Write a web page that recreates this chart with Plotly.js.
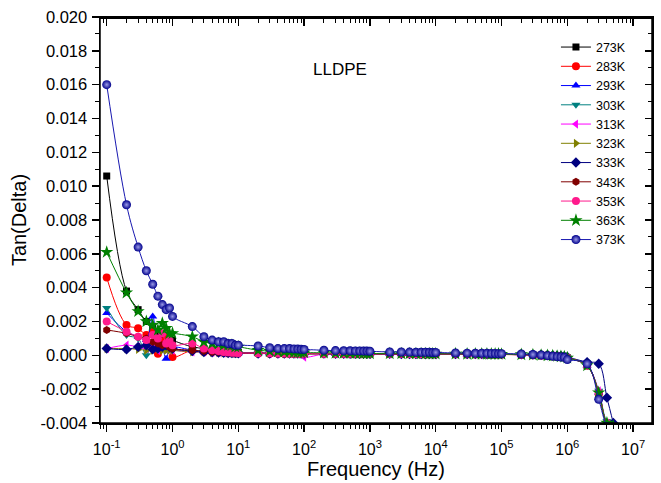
<!DOCTYPE html>
<html>
<head>
<meta charset="utf-8">
<script src="https://cdn.plot.ly/plotly-3.0.1.min.js"></script>
<style>html,body{margin:0;padding:0;background:#fff;}#chart{width:661px;height:483px;}</style>
</head>
<body>
<div id="chart"></div>
<script>
// ---------------- DATA ----------------
const freqHz = [0.1,0.2,0.3,0.4,0.5,0.6,0.7,0.8,0.9,
  1,2,3,4,5,6,7,8,9,
  10,20,30,40,50,60,70,80,90,
  100,200,300,400,500,600,700,800,900,
  1000,2000,3000,4000,5000,6000,7000,8000,9000,
  10000,20000,30000,40000,50000,60000,70000,80000,90000,
  100000,200000,300000,400000,500000,600000,700000,800000,900000,
  1000000,2000000,3000000,4000000,5000000];

const seriesNames = ['273K','283K','293K','303K','313K','323K','333K','343K','353K','363K','373K'];

const tan273 = [0.0106,0.0038,0.0027,0.0020,0.0017,0.0014,0.0012,0.0011,0.0010,
  0.0009,0.0005,0.0004,0.0003,0.0003,0.00025,0.00022,0.0002,0.0002,
  0.00018,0.00015,0.00013,0.00012,0.00012,0.00011,0.00011,0.0001,0.0001,
  0.0001,0.0001,0.00009,0.00009,0.00009,0.00009,0.00009,0.00009,0.00009,
  0.00009,0.00009,0.00008,0.00008,0.00008,0.00008,0.00008,0.00008,0.00008,
  0.00008,0.00008,0.00007,0.00007,0.00007,0.00007,0.00007,0.00007,0.00006,
  0.00006,0.00004,0.00002,0.0,-0.00002,-0.00004,-0.00006,-0.00008,-0.0001,
  -0.00015,-0.0006,-0.0022,-0.0040,-0.0042];

const tan283 = [0.0046,0.0018,0.0016,0.0012,0.0014,0.0001,0.0008,0.0011,0.0005,
  -0.0001,0.0003,0.0002,0.0002,0.00018,0.00016,0.00015,0.00014,0.00013,
  0.00013,0.00012,0.00011,0.00011,0.0001,0.0001,0.0001,0.0001,0.0001,
  0.0001,0.00009,0.00009,0.00009,0.00009,0.00008,0.00008,0.00008,0.00008,
  0.00008,0.00008,0.00008,0.00007,0.00007,0.00007,0.00007,0.00007,0.00007,
  0.00007,0.00007,0.00007,0.00006,0.00006,0.00006,0.00006,0.00006,0.00006,
  0.00005,0.00003,0.00001,-0.00001,-0.00003,-0.00005,-0.00007,-0.00009,-0.00011,
  -0.00016,-0.0006,-0.0023,-0.0040,-0.0042];

const tan293 = [0.0025,0.0014,0.0011,0.0009,0.0023,0.0006,0.0004,-0.0002,0.0004,
  0.0005,0.0003,0.0002,0.0002,0.00018,0.00016,0.00015,0.00014,0.00013,
  0.00013,0.00012,0.00011,0.00011,0.0001,0.0001,0.0001,0.0001,0.0001,
  0.00012,0.0001,0.0001,0.00009,0.00009,0.00009,0.00009,0.00009,0.00009,
  0.00009,0.00008,0.00008,0.00008,0.00008,0.00008,0.00008,0.00008,0.00008,
  0.00008,0.00007,0.00007,0.00007,0.00007,0.00007,0.00007,0.00007,0.00007,
  0.00006,0.00004,0.00002,0.0,-0.00002,-0.00004,-0.00006,-0.00008,-0.0001,
  -0.00015,-0.0006,-0.0022,-0.0040,-0.0042];

const tan303 = [0.0028,0.0012,0.0010,0.0000,0.0008,0.0006,0.0005,0.0004,0.0004,
  0.0003,0.0003,0.00025,0.0002,0.0002,0.00018,0.00016,0.00015,0.00014,
  0.00014,0.00012,0.00011,0.00011,0.0001,0.0001,0.0001,0.0001,0.0001,
  0.0001,0.0001,0.00009,0.00009,0.00009,0.00009,0.00009,0.00009,0.00009,
  0.00009,0.00009,0.00009,0.00008,0.00008,0.00008,0.00008,0.00008,0.00008,
  0.00008,0.00008,0.00007,0.00007,0.00007,0.00007,0.00007,0.00007,0.00007,
  0.00006,0.00004,0.00002,0.0,-0.00002,-0.00004,-0.00006,-0.00008,-0.0001,
  -0.00015,-0.0006,-0.0021,-0.0039,-0.0041];

const tan313 = [0.0004,0.0006,0.0005,0.0004,0.0005,0.0003,0.0006,0.0004,0.0003,
  0.0003,0.0002,0.0002,0.00018,0.00016,0.00015,0.00014,0.00013,0.00012,
  0.00012,0.00011,0.0001,0.0001,0.0001,0.0001,0.00009,0.00009,0.00009,
  -0.0001,0.00008,0.00008,0.00008,0.00008,0.00008,0.00008,0.00008,0.00008,
  0.00008,0.00008,0.00008,0.00008,0.00007,0.00007,0.00007,0.00007,0.00007,
  0.00007,0.00007,0.00007,0.00007,0.00006,0.00006,0.00006,0.00006,0.00006,
  0.00006,0.00004,0.00002,0.0,-0.00002,-0.00004,-0.00006,-0.00008,-0.0001,
  -0.00015,-0.0006,-0.0021,-0.0040,-0.0042];

const tan323 = [0.0004,0.0004,0.00035,0.0003,0.0003,0.0004,0.0003,0.0003,0.0003,
  0.0003,0.0002,0.0002,0.00018,0.00016,0.00015,0.00014,0.00013,0.00012,
  0.00012,0.00011,0.0001,0.0001,0.0001,0.0001,0.0001,0.00009,0.00009,
  0.00009,0.00009,0.00009,0.00008,0.00008,0.00008,0.00008,0.00008,0.00008,
  0.00008,0.00008,0.00008,0.00008,0.00008,0.00007,0.00007,0.00007,0.00007,
  0.00007,0.00007,0.00007,0.00007,0.00007,0.00006,0.00006,0.00006,0.00006,
  0.00006,0.00004,0.00002,0.0,-0.00002,-0.00004,-0.00006,-0.00008,-0.0001,
  -0.00015,-0.0006,-0.0022,-0.0040,-0.0042];

const tan333 = [0.0004,0.00035,0.0005,0.0006,0.00035,0.0004,0.0005,0.0006,0.0005,
  0.0004,0.00025,0.0002,0.00018,0.00016,0.00015,0.00014,0.00013,0.00013,
  0.00012,0.00011,0.00011,0.0001,0.0001,0.0001,0.0001,0.0001,0.0001,
  0.0001,0.0001,0.00009,0.00009,0.00009,0.00009,0.00009,0.00009,0.00009,
  0.00009,0.00009,0.00008,0.00008,0.00008,0.00008,0.00008,0.00008,0.00008,
  0.00008,0.00008,0.00008,0.00007,0.00007,0.00007,0.00007,0.00007,0.00007,
  0.00007,0.00006,0.00005,0.00004,0.00002,0.0,-0.00002,-0.00004,-0.00006,
  -0.0001,-0.0004,-0.0005,-0.0025,-0.0040];

const tan343 = [0.0015,0.0013,0.0011,0.0010,0.0008,0.0007,0.0006,0.0007,0.0005,
  0.0004,0.0003,0.00025,0.0002,0.0002,0.00018,0.00016,0.00015,0.00014,
  0.00013,0.00012,0.00011,0.00011,0.0001,0.0001,0.0001,0.0001,0.0001,
  0.0001,0.0001,0.00009,0.00009,0.00009,0.00009,0.00009,0.00009,0.00009,
  0.00009,0.00009,0.00008,0.00008,0.00008,0.00008,0.00008,0.00008,0.00008,
  0.00008,0.00008,0.00007,0.00007,0.00007,0.00007,0.00007,0.00007,0.00007,
  0.00006,0.00004,0.00002,0.0,-0.00002,-0.00004,-0.00006,-0.00008,-0.0001,
  -0.00015,-0.0006,-0.0022,-0.0040,-0.0042];

const tan353 = [0.0020,0.0014,0.0011,0.0009,0.0012,0.0010,0.0013,0.0007,0.0009,
  0.0006,0.0007,0.0004,0.0003,0.00025,0.0002,0.00018,0.00016,0.00015,
  0.00014,0.00013,0.00012,0.00011,0.00011,0.0001,0.0001,0.0001,0.0001,
  0.0001,0.0001,0.0001,0.00009,0.00009,0.00009,0.00009,0.00009,0.00009,
  0.00009,0.00009,0.00009,0.00008,0.00008,0.00008,0.00008,0.00008,0.00008,
  0.00008,0.00008,0.00008,0.00007,0.00007,0.00007,0.00007,0.00007,0.00007,
  0.00006,0.00004,0.00002,0.0,-0.00002,-0.00004,-0.00006,-0.00008,-0.0001,
  -0.00015,-0.0006,-0.0022,-0.0040,-0.0042];

const tan363 = [0.0061,0.0037,0.0026,0.0020,0.0018,0.0015,0.0019,0.0016,0.0013,
  0.0013,0.0011,0.0008,0.0007,0.0007,0.0006,0.0006,0.0006,0.0005,
  0.0005,0.0003,0.00025,0.00022,0.0002,0.0002,0.00018,0.00018,0.00017,
  0.00016,0.00015,0.00014,0.00013,0.00013,0.00012,0.00012,0.00012,0.00011,
  0.00011,0.0001,0.0001,0.0001,0.0001,0.0001,0.0001,0.00009,0.00009,
  0.00009,0.00009,0.00008,0.00008,0.00008,0.00008,0.00008,0.00008,0.00008,
  0.00007,0.00005,0.00003,0.00001,-0.00001,-0.00003,-0.00005,-0.00007,-0.00009,
  -0.00015,-0.0006,-0.0022,-0.0040,-0.0042];

const tan373 = [0.0160,0.0089,0.0064,0.0050,0.0042,0.0035,0.0030,0.0027,0.0028,
  0.0023,0.0017,0.0011,0.0009,0.0008,0.0008,0.0007,0.0007,0.0006,
  0.0006,0.00055,0.00045,0.0004,0.0004,0.0004,0.00038,0.00037,0.00036,
  0.00035,0.0003,0.00028,0.00027,0.00027,0.00026,0.00026,0.00025,0.00025,
  0.00024,0.0002,0.0002,0.00019,0.00018,0.00018,0.00018,0.00018,0.00017,
  0.00017,0.00014,0.00013,0.00012,0.00012,0.00012,0.00011,0.00011,0.0001,
  0.0001,0.00008,0.00005,0.00002,-0.00002,-0.00005,-0.00008,-0.0001,-0.00012,
  -0.00025,-0.0005,-0.0026,-0.0042,-0.0046];

const xTickVals = [0.1,1,10,100,1000,10000,100000,1000000,10000000];
const xTickText = ['10<sup>-1</sup>','10<sup>0</sup>','10<sup>1</sup>','10<sup>2</sup>','10<sup>3</sup>','10<sup>4</sup>','10<sup>5</sup>','10<sup>6</sup>','10<sup>7</sup>'];
const yTickVals = [-0.004,-0.002,0,0.002,0.004,0.006,0.008,0.010,0.012,0.014,0.016,0.018,0.020];
const yTickText = ['-0.004','-0.002','0.000','0.002','0.004','0.006','0.008','0.010','0.012','0.014','0.016','0.018','0.020'];

// ---------------- STYLES ----------------
const seriesValues = [tan273,tan283,tan293,tan303,tan313,tan323,tan333,tan343,tan353,tan363,tan373];
const colors = ['#000000','#FF0000','#0000FF','#008080','#FF00FF','#808000','#000080','#800000','#FF1A8C','#008000','#00008C'];
const lineColors = ['#000000','#FF0000','#0000FF','#008080','#FF00FF','#808000','#000080','#800000','#FF1A8C','#008000','#1818B0'];
const symbols = ['square','circle','triangle-up','triangle-down','triangle-left','triangle-right','diamond','hexagon','circle','star','circle'];
const sizes = [7,8,8,8,8,8,8,8,8,10,9];

const FONT = 'Liberation Sans, Arial, Helvetica, sans-serif';

const traces = seriesValues.map((vals, i) => {
  const m = {symbol: symbols[i], size: sizes[i], color: colors[i], line: {width: 0}};
  if (i === 10) m.gradient = {type: 'radial', color: '#9a9ae6'};
  return {
    x: freqHz, y: vals, name: seriesNames[i], type: 'scatter', mode: 'lines+markers',
    line: {shape: 'spline', smoothing: 1, width: 1, color: lineColors[i]},
    marker: m
  };
});
// invisible carrier for the inside-tick top / right axes
traces.push({x: freqHz, y: tan373, xaxis: 'x2', yaxis: 'y2', mode: 'none', type: 'scatter',
  showlegend: false, hoverinfo: 'skip'});

const axCommon = {showgrid: false, zeroline: false, showline: true, linecolor: '#000', linewidth: 1.5,
  tickcolor: '#000', tickwidth: 1.5, fixedrange: true};
const xRange = [-1.102, 7.287];
const yRange = [-0.004, 0.020];
const xMinor = (dir) => ({tickmode: 'linear', dtick: 'D1', ticks: dir, ticklen: 4, tickwidth: 1, tickcolor: '#000', showgrid: false});
const yMinor = (dir) => ({tickmode: 'linear', dtick: 0.001, tick0: 0, ticks: dir, ticklen: 4, tickwidth: 1, tickcolor: '#000', showgrid: false});

const layout = {
  width: 661, height: 483,
  margin: {l: 100, r: 9, t: 17, b: 60, pad: 0},
  paper_bgcolor: '#fff', plot_bgcolor: '#fff',
  font: {family: FONT, color: '#000', size: 14},
  showlegend: true,
  legend: {x: 0.826, y: 0.962, xanchor: 'left', yanchor: 'top', bgcolor: 'rgba(0,0,0,0)',
    font: {family: FONT, size: 12.5, color: '#000'}, borderwidth: 0, tracegroupgap: 0},
  xaxis: Object.assign({}, axCommon, {
    type: 'log', range: xRange, tickmode: 'array', tickvals: xTickVals, ticktext: xTickText,
    ticks: 'outside', ticklen: 7, tickfont: {family: FONT, size: 16}, ticklabelstandoff: 4,
    mirror: true, minor: xMinor('outside'),
    title: {text: 'Frequency (Hz)', font: {family: FONT, size: 20}, standoff: 3}
  }),
  yaxis: Object.assign({}, axCommon, {
    range: yRange, tickmode: 'array', tickvals: yTickVals, ticktext: yTickText,
    ticks: 'outside', ticklen: 7, tickfont: {family: FONT, size: 16.5}, ticklabelstandoff: 1,
    mirror: true, minor: yMinor('outside'),
    title: {text: 'Tan(Delta)', font: {family: FONT, size: 20}, standoff: 8}
  }),
  xaxis2: Object.assign({}, axCommon, {
    overlaying: 'x', anchor: 'free', position: 1, side: 'top', type: 'log', range: xRange,
    tickmode: 'array', tickvals: xTickVals, ticktext: xTickText, showticklabels: false,
    ticks: 'inside', ticklen: 7, minor: xMinor('inside')
  }),
  yaxis2: Object.assign({}, axCommon, {
    overlaying: 'y', anchor: 'free', position: 1, side: 'right', range: yRange,
    tickmode: 'array', tickvals: yTickVals, ticktext: yTickText, showticklabels: false,
    ticks: 'inside', ticklen: 7, minor: yMinor('inside')
  }),
  // plot frame
  shapes: [{type: 'rect', xref: 'paper', yref: 'paper', x0: 0, x1: 1, y0: 0, y1: 1,
    line: {color: '#000', width: 1.5}, fillcolor: 'rgba(0,0,0,0)', layer: 'above'}],
  annotations: [{text: 'LLDPE', xref: 'paper', yref: 'paper', x: 0.435, y: 0.899,
    showarrow: false, font: {family: FONT, size: 17, color: '#000'}}]
};

Plotly.newPlot('chart', traces, layout, {displayModeBar: false, staticPlot: true});
</script>
</body>
</html>
